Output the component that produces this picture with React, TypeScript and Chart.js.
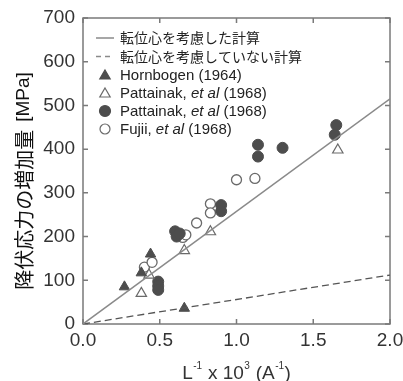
import React, { useEffect, useRef } from "react";
import { Chart, registerables } from "chart.js";

Chart.register(...registerables);

// ---- data ----
const xTickValues = [0, 0.5, 1.0, 1.5, 2.0];
const yTickValues = [0, 100, 200, 300, 400, 500, 600, 700];

const calcWithX = [0, 2.0];
const calcWithY = [0, 515];
const calcWithoutX = [0, 2.0];
const calcWithoutY = [0, 112];

const hornbogenX = [0.27, 0.38, 0.44, 0.66];
const hornbogenY = [85, 117, 160, 36];

const pattainakOpenX = [0.38, 0.43, 0.66, 0.83, 1.66];
const pattainakOpenY = [70, 112, 168, 211, 398];

const pattainakFilledX = [0.49, 0.49, 0.49, 0.6, 0.61, 0.63, 0.9, 0.9, 1.14, 1.14, 1.3, 1.65, 1.64];
const pattainakFilledY = [97, 87, 78, 212, 200, 207, 272, 258, 410, 383, 403, 455, 433];

const fujiiX = [0.4, 0.45, 0.65, 0.67, 0.74, 0.83, 0.83, 1.0, 1.12];
const fujiiY = [130, 141, 198, 204, 231, 275, 254, 330, 333];

const legendLabels = [
  "転位心を考慮した計算",
  "転位心を考慮していない計算",
  "Hornbogen (1964)",
  "Pattainak, |et al| (1968)",
  "Pattainak, |et al| (1968)",
  "Fujii, |et al| (1968)",
];

const yTitleMain = "降伏応力の増加量";
const yTitleUnit = "[MPa]";

const LATIN = "'Liberation Sans', Arial, Helvetica, sans-serif";
const CJK = "'Noto Sans CJK JP', sans-serif";
const LINE_COLOR = "#8a8a8a";
const FILLED = "#4d4d4d";
const OPEN = "#6a6a6a";

const pts = (xs: number[], ys: number[]) => xs.map((x, i) => ({ x, y: ys[i] }));

function drawTriangle(ctx: CanvasRenderingContext2D, x: number, y: number, r: number, fill: string, stroke: string) {
  ctx.beginPath();
  for (let i = 0; i < 3; i++) {
    const a = (i * 2 * Math.PI) / 3;
    const px = x + Math.sin(a) * r;
    const py = y - Math.cos(a) * r;
    if (i === 0) ctx.moveTo(px, py);
    else ctx.lineTo(px, py);
  }
  ctx.closePath();
  ctx.fillStyle = fill;
  ctx.fill();
  ctx.strokeStyle = stroke;
  ctx.lineWidth = 1.2;
  ctx.stroke();
}

function drawCircle(ctx: CanvasRenderingContext2D, x: number, y: number, r: number, fill: string, stroke: string) {
  ctx.beginPath();
  ctx.arc(x, y, r, 0, Math.PI * 2);
  ctx.fillStyle = fill;
  ctx.fill();
  ctx.strokeStyle = stroke;
  ctx.lineWidth = 1.2;
  ctx.stroke();
}

const framePlugin = {
  id: "frame",
  beforeDatasetsDraw(chart: any) {
    const { ctx, chartArea: a, scales } = chart;
    ctx.save();
    ctx.strokeStyle = "#7a7a7a";
    ctx.lineWidth = 1.5;
    ctx.strokeRect(a.left, a.top, a.right - a.left, a.bottom - a.top);
    const tl = 5;
    ctx.beginPath();
    xTickValues.forEach((v) => {
      const px = scales.x.getPixelForValue(v);
      ctx.moveTo(px, a.bottom);
      ctx.lineTo(px, a.bottom - tl);
      ctx.moveTo(px, a.top);
      ctx.lineTo(px, a.top + tl);
    });
    yTickValues.forEach((v) => {
      const py = scales.y.getPixelForValue(v);
      ctx.moveTo(a.left, py);
      ctx.lineTo(a.left + tl, py);
      ctx.moveTo(a.right, py);
      ctx.lineTo(a.right - tl, py);
    });
    ctx.stroke();
    ctx.restore();
  },
  afterDraw(chart: any) {
    const { ctx, chartArea: a } = chart;
    ctx.save();
    // legend
    const rowY = [38, 56.5, 75, 93, 111, 129];
    const mx = a.left + 22;
    const tx = a.left + 37;
    legendLabels.forEach((label, i) => {
      const y = rowY[i];
      if (i === 0 || i === 1) {
        ctx.beginPath();
        ctx.strokeStyle = LINE_COLOR;
        ctx.lineWidth = 1.5;
        ctx.setLineDash(i === 1 ? [5, 4] : []);
        ctx.moveTo(mx - 9, y);
        ctx.lineTo(mx + 9, y);
        ctx.stroke();
        ctx.setLineDash([]);
      } else if (i === 2) drawTriangle(ctx, mx, y + 1, 6, FILLED, FILLED);
      else if (i === 3) drawTriangle(ctx, mx, y + 1, 6, "#fff", OPEN);
      else if (i === 4) drawCircle(ctx, mx, y, 5.5, FILLED, FILLED);
      else drawCircle(ctx, mx, y, 5, "#fff", OPEN);

      ctx.fillStyle = "#222";
      ctx.textBaseline = "middle";
      ctx.textAlign = "left";
      if (i < 2) {
        ctx.font = `14px ${CJK}`;
        ctx.fillText(label, tx, y);
      } else {
        const parts = label.split("|");
        let x = tx;
        parts.forEach((p, k) => {
          ctx.font = k === 1 ? `italic 15px ${LATIN}` : `15px ${LATIN}`;
          ctx.fillText(p, x, y + 1);
          x += ctx.measureText(p).width;
        });
      }
    });

    // y title
    ctx.save();
    ctx.translate(24, 181);
    ctx.rotate(-Math.PI / 2);
    ctx.fillStyle = "#111";
    ctx.textBaseline = "middle";
    ctx.textAlign = "left";
    ctx.font = `20px ${CJK}`;
    const w1 = ctx.measureText(yTitleMain).width;
    ctx.font = `19px ${LATIN}`;
    const w2 = ctx.measureText(yTitleUnit).width;
    const gap = 8;
    const start = -(w1 + gap + w2) / 2;
    ctx.font = `20px ${CJK}`;
    ctx.fillText(yTitleMain, start, 0);
    ctx.font = `19px ${LATIN}`;
    ctx.fillText(yTitleUnit, start + w1 + gap, 0);
    ctx.restore();

    // x title: L^-1 x 10^3 (A^-1)
    const segs: [string, boolean][] = [
      ["L", false],
      ["-1", true],
      [" x 10", false],
      ["3", true],
      [" (A", false],
      ["-1", true],
      [")", false],
    ];
    const big = `19px ${LATIN}`;
    const small = `10px ${LATIN}`;
    let total = 0;
    segs.forEach(([s, sup]) => {
      ctx.font = sup ? small : big;
      total += ctx.measureText(s).width + (sup ? 1 : 0);
    });
    let x = (a.left + a.right) / 2 - total / 2;
    const base = 379;
    ctx.fillStyle = "#333";
    ctx.textAlign = "left";
    ctx.textBaseline = "alphabetic";
    segs.forEach(([s, sup]) => {
      ctx.font = sup ? small : big;
      ctx.fillText(s, x + (sup ? 0.5 : 0), sup ? base - 10 : base);
      x += ctx.measureText(s).width + (sup ? 1 : 0);
    });
    ctx.restore();
  },
};

export default function App() {
  const ref = useRef<HTMLCanvasElement | null>(null);
  useEffect(() => {
    if (!ref.current) return;
    const chart = new Chart(ref.current, {
      type: "scatter",
      data: {
        datasets: [
          {
            label: "with",
            data: pts(calcWithX, calcWithY),
            showLine: true,
            borderColor: LINE_COLOR,
            borderWidth: 1.5,
            pointRadius: 0,
          },
          {
            label: "without",
            data: pts(calcWithoutX, calcWithoutY),
            showLine: true,
            borderColor: "#555",
            borderWidth: 1.3,
            borderDash: [7, 4],
            pointRadius: 0,
          },
          {
            label: "Hornbogen",
            data: pts(hornbogenX, hornbogenY),
            pointStyle: "triangle",
            pointRadius: 6,
            backgroundColor: FILLED,
            borderColor: FILLED,
            borderWidth: 1,
          },
          {
            label: "Pattainak open",
            data: pts(pattainakOpenX, pattainakOpenY),
            pointStyle: "triangle",
            pointRadius: 6,
            backgroundColor: "#fff",
            borderColor: OPEN,
            borderWidth: 1.2,
          },
          {
            label: "Pattainak filled",
            data: pts(pattainakFilledX, pattainakFilledY),
            pointStyle: "circle",
            pointRadius: 5.5,
            backgroundColor: FILLED,
            borderColor: FILLED,
            borderWidth: 1,
          },
          {
            label: "Fujii",
            data: pts(fujiiX, fujiiY),
            pointStyle: "circle",
            pointRadius: 5,
            backgroundColor: "#fff",
            borderColor: OPEN,
            borderWidth: 1.3,
          },
        ],
      },
      options: {
        animation: false,
        responsive: true,
        maintainAspectRatio: false,
        layout: { padding: { top: 18, right: 13, left: 0, bottom: 0 } },
        plugins: { legend: { display: false }, tooltip: { enabled: false } },
        scales: {
          x: {
            type: "linear",
            min: 0,
            max: 2,
            grid: { display: false, drawTicks: false },
            border: { display: false },
            ticks: {
              stepSize: 0.5,
              padding: 5,
              color: "#333",
              font: { family: LATIN, size: 19 },
              callback: (v: any) => Number(v).toFixed(1),
            },
            afterFit: (s: any) => {
              s.height = 57;
              s.paddingLeft = 0;
              s.paddingRight = 0;
            },
          },
          y: {
            type: "linear",
            min: 0,
            max: 700,
            grid: { display: false, drawTicks: false },
            border: { display: false },
            ticks: {
              stepSize: 100,
              padding: 8,
              color: "#333",
              font: { family: LATIN, size: 19 },
            },
            afterFit: (s: any) => {
              s.width = 83;
              s.paddingTop = 0;
              s.paddingBottom = 0;
            },
          },
        },
      },
      plugins: [framePlugin],
    });
    return () => chart.destroy();
  }, []);
  return (
    <div style={{ position: "fixed", left: 0, top: 0, width: 403, height: 381, background: "#fff" }}>
      <canvas ref={ref} />
    </div>
  );
}
